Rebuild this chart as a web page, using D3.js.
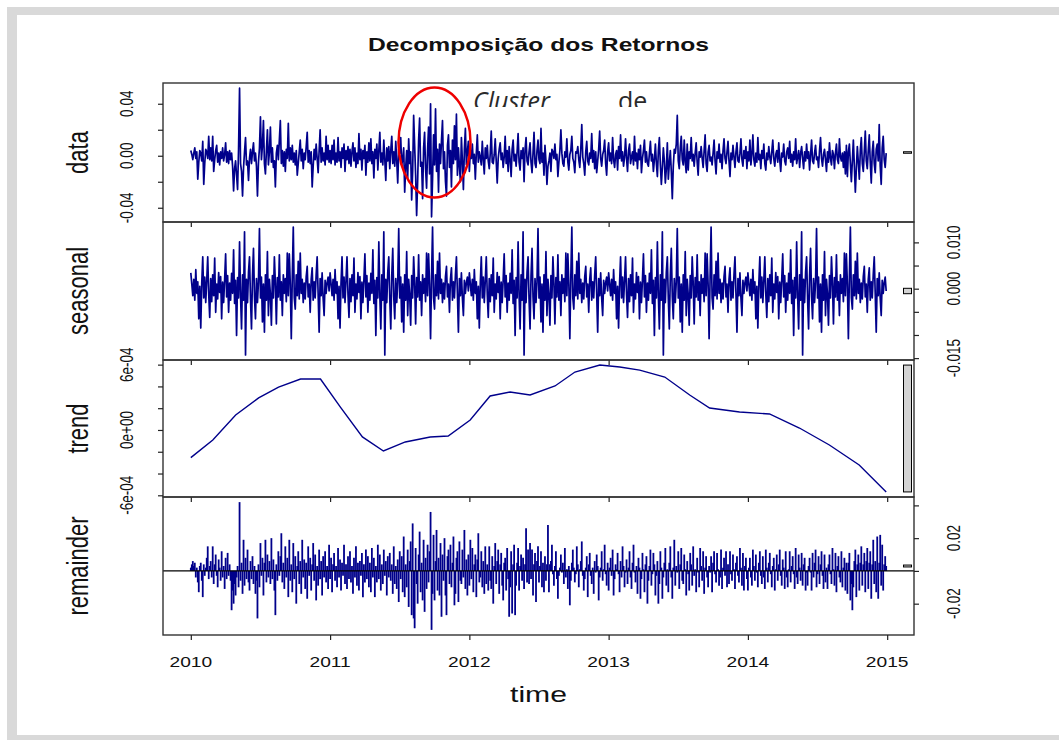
<!DOCTYPE html>
<html><head><meta charset="utf-8">
<script src="https://cdn.jsdelivr.net/npm/d3@7"></script>
<style>body{margin:0;background:#fff}svg{display:block}</style>
</head><body><svg id="c" width="1059" height="740"></svg>
<script>
const chartTitle = "Decomposição dos Retornos";
const panelNames = ["data", "seasonal", "trend", "remainder"];
const xLabel = "time";
const startYear = 2010, perYear = 140;
const yearTicks = [2010, 2011, 2012, 2013, 2014, 2015];

const dataValues = [
0.004,0.001,-0.003,0.002,0.006,-0.002,0.003,-0.018,-0.005,0.004,0.002,-0.004,0.011,-0.022,-0.006,0.005,0.003,-0.002,0.015,-0.003,
0.006,-0.004,0.015,-0.012,-0.003,0.004,0.008,-0.005,0.002,-0.007,0.003,-0.002,0.006,-0.004,0.001,0.010,-0.005,0.003,-0.006,0.004,
-0.003,0.002,-0.008,-0.027,-0.010,-0.004,-0.015,-0.026,0.005,0.052,-0.006,-0.012,-0.031,-0.009,0.003,0.014,-0.007,-0.004,-0.019,-0.002,
0.005,-0.006,0.003,0.010,-0.004,0.002,-0.008,-0.031,-0.005,0.006,0.030,-0.003,0.008,0.027,-0.006,-0.014,0.004,0.020,-0.007,0.003,
0.022,-0.005,0.006,-0.009,-0.004,-0.024,0.002,0.008,-0.003,0.012,0.027,-0.006,0.004,-0.008,0.003,-0.012,0.005,-0.002,0.025,-0.004,
0.006,-0.003,0.008,-0.005,0.002,-0.007,0.004,-0.015,-0.006,0.003,0.012,-0.004,0.005,-0.010,0.002,-0.003,0.007,0.018,-0.005,0.004,
-0.006,0.003,-0.024,-0.008,0.005,-0.003,0.009,-0.002,-0.013,0.004,0.020,-0.005,0.006,-0.004,0.002,-0.007,0.015,-0.003,0.008,-0.005,
0.004,-0.006,0.008,-0.003,0.012,-0.007,0.002,-0.005,0.014,-0.004,0.003,-0.009,0.006,-0.002,0.009,-0.012,0.004,-0.003,0.007,-0.006,
0.005,-0.008,0.003,0.010,-0.004,0.006,-0.009,0.002,-0.006,0.017,-0.003,0.005,-0.011,0.004,-0.002,0.008,-0.015,0.003,-0.005,0.010,
-0.004,0.013,-0.006,0.003,-0.017,0.005,-0.002,0.009,-0.011,0.004,0.018,-0.005,0.002,-0.007,0.012,-0.003,-0.019,0.006,-0.004,0.007,
-0.010,0.004,0.015,-0.006,0.003,-0.008,0.011,-0.004,-0.021,0.005,0.002,0.014,-0.007,-0.003,0.006,-0.028,-0.009,0.004,-0.017,0.013,
-0.006,0.003,-0.034,-0.012,0.031,0.008,-0.015,-0.046,-0.020,0.012,0.029,-0.008,-0.005,-0.033,0.006,0.018,-0.010,-0.025,0.004,0.022,
-0.014,0.040,-0.047,-0.018,0.016,-0.007,0.036,-0.012,0.005,-0.028,0.009,-0.006,0.012,0.027,-0.010,0.003,-0.020,-0.031,0.008,0.016,
-0.009,0.004,-0.024,0.012,-0.006,0.023,-0.003,0.032,-0.015,0.006,-0.008,-0.020,0.014,-0.004,-0.026,0.005,0.021,-0.007,0.003,0.011,
-0.012,0.004,-0.002,0.009,-0.006,0.001,-0.018,0.002,0.016,-0.005,0.003,-0.001,-0.007,0.011,-0.003,-0.014,0.006,-0.002,0.008,-0.004,
-0.010,0.002,0.019,-0.005,-0.006,0.001,0.013,-0.004,-0.021,-0.002,0.005,0.010,-0.003,0.002,-0.009,-0.001,0.015,-0.006,0.004,-0.012,
0.007,-0.003,-0.016,0.005,0.012,-0.004,0.001,-0.008,0.003,0.017,-0.005,-0.011,0.004,-0.002,0.006,-0.020,0.005,0.014,-0.004,-0.007,
0.003,0.010,-0.005,-0.013,0.002,0.018,-0.006,-0.009,0.004,0.012,-0.003,-0.006,0.021,-0.005,0.002,-0.015,0.008,-0.004,-0.022,-0.008,
-0.004,0.002,-0.012,0.005,0.003,-0.002,0.009,-0.003,0.001,-0.016,-0.005,0.004,0.020,0.002,-0.006,-0.008,0.003,-0.001,0.013,-0.005,
-0.011,0.001,0.004,0.015,-0.002,-0.005,-0.013,0.003,0.002,0.007,-0.003,-0.009,0.005,0.024,-0.001,-0.006,-0.015,0.003,0.011,-0.004,
-0.007,0.002,-0.002,0.017,-0.005,0.004,-0.010,0.003,-0.013,-0.004,0.005,0.019,-0.002,-0.008,0.001,0.004,0.012,-0.006,-0.015,0.003,
0.010,-0.004,0.002,-0.006,0.014,-0.003,-0.009,0.001,0.004,-0.011,0.007,-0.002,0.016,-0.004,0.003,-0.008,-0.001,0.013,-0.002,-0.012,
0.004,0.009,-0.006,-0.001,0.003,-0.007,0.015,-0.004,0.002,-0.010,0.005,-0.003,0.008,-0.013,-0.002,0.004,0.012,-0.005,0.003,-0.006,
-0.008,0.002,0.011,-0.004,0.001,-0.012,-0.003,0.009,-0.006,-0.016,0.004,0.014,-0.007,-0.022,-0.009,0.006,-0.004,-0.021,-0.010,0.010,
-0.018,-0.006,0.004,-0.012,-0.033,-0.008,0.005,0.002,0.009,0.031,-0.004,-0.010,0.006,0.015,-0.003,-0.007,0.012,-0.005,-0.013,0.009,
-0.011,0.003,-0.002,0.014,-0.004,0.001,-0.008,0.002,0.010,-0.005,-0.015,0.003,-0.001,0.007,-0.002,-0.009,0.004,0.016,-0.006,-0.012,
0.003,0.008,-0.004,-0.001,-0.007,0.002,0.012,-0.004,-0.014,0.003,-0.002,0.009,-0.005,0.001,-0.010,0.004,0.013,-0.002,-0.006,0.003,
0.011,-0.004,-0.016,0.002,-0.003,0.008,-0.001,-0.009,0.003,0.010,-0.004,-0.005,0.002,0.013,-0.003,-0.008,0.004,-0.002,0.007,-0.010,
0.003,-0.004,0.012,-0.007,0.001,0.016,-0.003,-0.008,0.002,-0.005,0.014,-0.003,0.001,-0.010,0.004,-0.002,0.009,-0.006,-0.011,0.002,
-0.003,0.007,-0.001,-0.006,0.003,0.012,-0.002,-0.008,0.001,0.004,-0.005,0.010,-0.003,-0.012,0.002,-0.001,0.009,-0.004,-0.007,0.003,
0.006,-0.002,0.011,-0.005,0.001,-0.008,0.003,-0.003,0.013,-0.006,-0.001,0.004,-0.009,0.002,0.007,-0.002,-0.010,0.003,-0.004,0.009,
-0.002,0.003,-0.011,0.001,0.012,-0.004,-0.006,0.002,0.008,-0.003,-0.001,-0.009,0.004,0.014,-0.002,-0.008,0.001,0.005,-0.003,-0.012,
0.003,-0.005,0.010,-0.002,-0.007,0.004,0.001,-0.010,0.002,0.009,-0.003,-0.006,0.013,-0.001,-0.004,0.002,-0.009,0.003,-0.014,0.008,
-0.016,0.003,0.009,-0.006,-0.020,-0.004,0.012,-0.008,-0.028,-0.010,0.007,-0.005,-0.018,0.004,0.014,-0.006,-0.012,0.003,0.019,-0.004,
-0.010,0.004,0.016,-0.005,-0.021,0.003,0.011,-0.006,-0.013,0.005,0.009,-0.004,0.024,-0.008,-0.022,0.006,0.015,-0.003,-0.009,0.002
];

// one seasonal cycle (one year); the STL seasonal component repeats every year
const seasonalYear = [
0.0034,0.0010,-0.0015,0.0020,-0.0025,0.0041,-0.0010,0.0015,-0.0065,0.0005,
-0.0085,0.0012,0.0069,-0.0020,0.0025,-0.0030,0.0018,0.0069,-0.0012,-0.0062,
0.0022,-0.0028,0.0030,-0.0015,0.0066,-0.0051,0.0010,-0.0022,0.0035,-0.0008,
0.0026,-0.0065,0.0014,-0.0030,0.0020,0.0075,-0.0018,0.0028,-0.0051,0.0012,
-0.0025,0.0033,-0.0010,0.0084,-0.0032,0.0018,-0.0101,0.0024,-0.0020,0.0101,
-0.0015,-0.0087,0.0030,-0.0025,0.0123,-0.0143,0.0020,-0.0030,0.0036,0.0069,
-0.0022,-0.0087,0.0028,0.0087,-0.0018,-0.0065,0.0022,-0.0030,0.0015,0.0130,
-0.0020,0.0025,-0.0072,0.0010,-0.0094,0.0030,-0.0025,0.0080,-0.0058,0.0020,
-0.0012,-0.0079,0.0028,-0.0020,0.0069,0.0012,-0.0076,0.0024,-0.0018,0.0073,
-0.0025,0.0015,-0.0058,0.0030,-0.0010,0.0022,-0.0028,0.0077,-0.0015,0.0075,
0.0010,-0.0108,0.0025,0.0133,-0.0020,-0.0044,0.0030,-0.0015,0.0059,-0.0022,
0.0077,-0.0010,0.0020,-0.0030,0.0012,-0.0022,0.0026,0.0048,-0.0018,0.0010,
-0.0051,0.0020,0.0045,-0.0025,0.0015,-0.0020,0.0030,0.0069,-0.0012,-0.0094,
0.0022,-0.0015,0.0034,-0.0020,-0.0058,0.0018,-0.0010,0.0013,0.0025,-0.0005
];

const trendTime = [2010.000,2010.158,2010.322,2010.487,2010.630,2010.788,2010.931,2011.074,
2011.232,2011.383,2011.540,2011.719,2011.848,2012.006,2012.149,2012.292,2012.436,2012.615,
2012.758,2012.937,2013.080,2013.223,2013.403,2013.582,2013.725,2013.940,2014.155,2014.370,
2014.585,2014.799,2014.993];
const trendValues = [-2.54e-4,-0.92e-4,1.38e-4,2.94e-4,3.94e-4,4.68e-4,4.68e-4,2.10e-4,
-0.64e-4,-1.93e-4,-1.10e-4,-0.64e-4,-0.55e-4,0.92e-4,3.12e-4,3.49e-4,3.21e-4,4.04e-4,
5.32e-4,5.96e-4,5.78e-4,5.50e-4,4.86e-4,3.21e-4,2.02e-4,1.65e-4,1.47e-4,0.18e-4,
-1.38e-4,-3.21e-4,-5.69e-4];

const remainderValues = [
0.002,0.004,0.006,0.003,0.005,-0.004,0.002,-0.007,-0.013,0.003,0.005,-0.006,-0.016,0.004,-0.003,0.002,0.008,0.015,-0.005,0.003,
0.006,-0.004,0.015,-0.008,0.004,0.010,-0.003,-0.010,0.007,0.002,-0.006,0.012,-0.004,0.003,-0.011,0.008,-0.005,0.011,-0.003,0.004,
-0.006,-0.024,-0.012,-0.020,-0.008,-0.015,-0.004,0.003,-0.010,0.042,-0.006,0.005,-0.014,0.019,-0.009,0.008,-0.005,0.013,-0.007,-0.012,
0.006,-0.005,0.009,-0.008,0.003,-0.014,-0.006,-0.029,0.004,-0.010,0.017,-0.003,0.008,-0.015,0.005,0.019,-0.007,0.010,-0.004,0.006,
-0.008,0.020,-0.005,0.007,-0.012,-0.027,0.004,-0.006,0.012,-0.003,0.009,0.023,-0.007,0.005,-0.011,0.015,-0.004,0.008,-0.016,0.019,
-0.006,0.004,-0.013,0.017,-0.005,0.009,-0.020,0.003,0.012,-0.008,0.006,-0.014,0.019,-0.004,0.007,-0.011,0.005,-0.017,0.015,-0.003,
0.008,-0.012,0.004,0.017,-0.006,0.010,-0.018,0.003,-0.009,0.013,-0.005,0.006,-0.015,0.009,-0.004,0.012,-0.007,0.003,-0.011,0.016,
-0.005,0.008,-0.013,0.004,0.011,-0.006,0.003,-0.010,0.014,-0.004,0.007,-0.012,0.005,-0.003,0.016,-0.008,0.004,-0.011,0.009,-0.005,
0.012,-0.007,0.003,-0.014,0.008,-0.004,0.015,-0.009,0.005,-0.012,0.006,-0.003,0.011,-0.016,0.004,-0.007,0.013,-0.005,0.009,-0.010,
0.005,-0.013,0.014,-0.004,0.008,-0.016,0.003,-0.007,0.016,-0.005,0.010,-0.012,0.004,-0.008,0.013,-0.003,0.006,-0.015,0.009,-0.004,
0.011,-0.006,0.004,-0.014,0.015,-0.008,0.003,-0.011,0.007,-0.019,0.012,-0.005,0.009,-0.013,0.021,-0.016,0.004,-0.010,0.013,-0.022,
0.006,0.018,-0.027,0.029,-0.029,-0.035,0.014,-0.008,-0.020,0.010,0.024,-0.013,0.005,-0.018,0.019,-0.025,0.008,-0.011,0.016,-0.007,
0.012,0.036,-0.036,-0.014,0.022,-0.018,0.006,0.025,-0.012,0.008,-0.015,0.017,-0.028,0.010,-0.006,0.020,-0.015,-0.027,0.009,0.013,
-0.008,0.016,-0.010,0.005,0.021,-0.021,-0.014,0.008,0.012,-0.019,0.018,-0.006,-0.008,0.013,-0.004,0.025,-0.011,0.007,-0.015,0.010,
-0.009,0.019,-0.005,0.014,-0.013,0.004,0.010,-0.016,0.007,0.023,-0.007,-0.004,0.012,-0.010,0.006,-0.014,0.015,-0.008,0.004,-0.012,
0.015,-0.006,-0.011,0.009,-0.020,0.003,0.017,-0.008,0.006,0.013,-0.014,0.004,0.011,-0.009,-0.018,0.005,0.008,-0.012,0.014,-0.005,
-0.028,-0.010,0.012,-0.026,0.004,0.016,-0.027,-0.009,0.005,0.014,-0.012,0.003,0.010,-0.006,0.008,-0.011,0.004,0.026,-0.007,0.013,
-0.008,0.017,-0.005,0.013,-0.015,0.004,0.011,-0.019,0.006,0.015,-0.007,0.003,0.012,-0.010,0.005,-0.013,0.009,-0.006,0.004,0.028,
-0.013,0.004,0.006,0.016,-0.002,-0.009,0.003,0.012,-0.005,-0.017,-0.003,0.002,0.010,-0.001,0.005,-0.008,0.014,-0.004,0.001,-0.011,
0.003,-0.021,-0.006,0.005,0.013,0.002,-0.007,-0.002,0.015,0.004,-0.010,0.001,0.006,0.018,-0.003,-0.012,-0.005,0.002,0.009,-0.016,
0.004,0.011,-0.003,-0.008,0.002,-0.014,0.006,-0.001,0.010,0.003,-0.018,-0.004,0.002,0.012,-0.006,0.001,0.016,-0.002,-0.009,0.005,
-0.012,0.002,0.008,-0.003,0.013,-0.015,-0.005,0.004,0.001,0.011,-0.002,-0.013,0.006,-0.004,0.015,0.003,-0.010,-0.001,0.007,-0.008,
0.002,0.012,-0.004,-0.011,0.005,0.016,-0.001,-0.007,0.003,-0.014,0.008,0.002,-0.017,-0.005,0.011,0.001,-0.013,0.004,0.009,-0.020,
-0.006,0.003,0.013,-0.009,-0.002,0.011,0.004,-0.015,-0.003,0.006,-0.020,-0.008,0.012,0.002,-0.017,-0.004,0.005,0.014,-0.009,0.001,
-0.013,0.005,0.015,-0.004,-0.017,0.002,0.019,-0.009,0.003,-0.001,0.012,-0.011,0.004,0.014,-0.006,-0.008,0.010,0.001,-0.015,0.006,
-0.002,-0.012,0.011,0.004,-0.009,0.015,-0.003,0.001,-0.013,0.008,-0.001,-0.010,0.014,0.003,-0.006,0.012,-0.014,0.002,0.009,-0.004,
-0.010,0.003,-0.001,0.009,-0.013,0.005,0.012,-0.002,-0.007,0.011,0.001,-0.009,-0.004,0.013,-0.011,0.002,0.008,-0.003,0.012,-0.010,
0.004,-0.008,0.012,-0.002,-0.006,0.010,0.001,-0.011,0.005,0.009,-0.003,-0.007,0.014,0.002,-0.009,0.011,-0.012,0.003,0.008,-0.005,
-0.012,0.002,0.008,-0.004,-0.009,0.013,0.003,-0.006,0.010,-0.001,-0.010,0.005,0.012,-0.003,-0.008,0.009,-0.004,-0.011,0.013,0.002,
-0.007,0.005,0.011,-0.002,-0.010,0.003,0.008,-0.012,0.001,0.010,-0.006,0.004,0.013,-0.003,-0.009,0.007,0.002,-0.011,0.012,-0.004,
-0.010,0.001,0.012,-0.007,0.003,0.009,-0.002,-0.011,0.014,-0.004,-0.008,0.010,0.002,-0.006,0.011,-0.009,0.004,0.008,-0.012,-0.001,
-0.009,0.003,0.008,-0.001,-0.012,0.011,-0.004,0.005,0.013,-0.010,-0.002,0.009,-0.008,0.004,0.012,-0.003,-0.011,0.010,-0.007,0.002,
-0.011,0.004,0.010,-0.002,-0.008,0.014,0.001,-0.009,0.011,-0.013,0.003,0.009,-0.004,-0.007,0.012,-0.010,0.002,0.008,-0.012,0.005,
-0.014,0.005,0.011,-0.018,-0.008,-0.024,-0.010,0.006,0.013,-0.016,0.004,0.010,-0.012,0.005,0.015,-0.009,0.004,0.011,-0.013,0.006,
0.014,-0.011,0.005,0.012,-0.017,0.004,0.019,-0.008,0.006,-0.013,0.021,-0.017,0.005,0.022,-0.009,0.016,-0.012,0.004,0.009,0.003
];

const dataTicks = [-0.04, -0.02, 0, 0.02, 0.04];
const dataTickLabels = [[0.04, "0.04"], [0, "0.00"], [-0.04, "-0.04"]];
const seasonalTicks = [-0.015, -0.010, -0.005, 0, 0.005, 0.010];
const seasonalTickLabels = [[0.010, "0.010"], [0, "0.000"], [-0.015, "-0.015"]];
const trendTicks = [-6e-4, -4e-4, -2e-4, 0, 2e-4, 4e-4, 6e-4];
const trendTickLabels = [[6e-4, "6e-04"], [0, "0e+00"], [-6e-4, "-6e-04"]];
const remainderTicks = [-0.02, 0, 0.02, 0.04];
const remainderTickLabels = [[0.02, "0.02"], [-0.02, "-0.02"]];

const annotationWords = [["Cluster", "italic", 473], ["de", "normal", 618]];

// ---------- drawing ----------
const svg = d3.select("#c");
const SX = 1.37;            // horizontal stretch of the original picture
const FONT = "'Liberation Sans', Arial, sans-serif";
const BLUE = "#00008b";
const L = 163, R = 914;
const tops = [83, 222, 360, 497];
const bottoms = [222, 360, 497, 635];

// frame of the screenshot
svg.append("rect").attr("x", 7).attr("y", 7).attr("width", 1052).attr("height", 8).attr("fill", "#d9d9d9");
svg.append("rect").attr("x", 7).attr("y", 7).attr("width", 10).attr("height", 728).attr("fill", "#d9d9d9");
svg.append("rect").attr("x", 7).attr("y", 735).attr("width", 1052).attr("height", 5).attr("fill", "#d9d9d9");

const seasonalValues = [];
for (let y = 0; y < dataValues.length / perYear; y++) seasonalYear.forEach(v => seasonalValues.push(v));
const times = dataValues.map((_, i) => startYear + i / perYear);

function padded(ext) { const d = (ext[1] - ext[0]) * 0.04; return [ext[0] - d, ext[1] + d]; }
const x = d3.scaleLinear().domain(padded(d3.extent(times))).range([L, R]);

const panels = [
  {vals: dataValues, ticks: dataTicks, labels: dataTickLabels, side: "left"},
  {vals: seasonalValues, ticks: seasonalTicks, labels: seasonalTickLabels, side: "right"},
  {vals: trendValues, ticks: trendTicks, labels: trendTickLabels, side: "left"},
  {vals: remainderValues, ticks: remainderTicks, labels: remainderTickLabels, side: "right"}
];
const trendRange = d3.extent(trendValues);
const barLen = trendRange[1] - trendRange[0];

function text(g, px, py, str, size, opt = {}) {
  return g.append("text")
    .attr("transform", `translate(${px},${py}) scale(${SX},1)` + (opt.rot ? " rotate(-90)" : ""))
    .attr("text-anchor", opt.anchor || "middle")
    .attr("font-family", FONT).attr("font-size", size)
    .attr("font-weight", opt.bold ? "bold" : "normal")
    .attr("fill", "#111").text(str);
}

panels.forEach((p, k) => {
  const ext = d3.extent(p.vals);
  const y = d3.scaleLinear().domain(padded(ext)).range([bottoms[k], tops[k]]);
  const g = svg.append("g");
  g.append("clipPath").attr("id", "clip" + k).append("rect")
    .attr("x", L).attr("y", tops[k]).attr("width", R - L).attr("height", bottoms[k] - tops[k]);
  const body = g.append("g").attr("clip-path", `url(#clip${k})`);
  if (k === 2) {
    body.append("path").datum(trendTime.map((t, i) => [t, trendValues[i]]))
      .attr("fill", "none").attr("stroke", BLUE).attr("stroke-width", 1.4)
      .attr("d", d3.line().x(d => x(d[0])).y(d => y(d[1])));
  } else if (k === 3) {
    body.selectAll("line.r").data(p.vals).join("line").attr("class", "r")
      .attr("x1", (d, i) => x(times[i])).attr("x2", (d, i) => x(times[i]))
      .attr("y1", y(0)).attr("y2", d => y(d))
      .attr("stroke", BLUE).attr("stroke-width", 1.8);
    body.append("line").attr("x1", L).attr("x2", R).attr("y1", y(0)).attr("y2", y(0))
      .attr("stroke", "#000").attr("stroke-width", 1.3);
  } else {
    body.append("path").datum(p.vals)
      .attr("fill", "none").attr("stroke", BLUE).attr("stroke-width", 1.7)
      .attr("stroke-linejoin", "round")
      .attr("d", d3.line().x((d, i) => x(times[i])).y(d => y(d)));
  }
  // range bar
  const c = (ext[0] + ext[1]) / 2;
  const yb1 = y(c + barLen / 2), yb2 = y(c - barLen / 2);
  g.append("rect").attr("x", 903.5).attr("y", yb1).attr("width", 8)
    .attr("height", Math.max(1, yb2 - yb1)).attr("fill", "#d3d3d3")
    .attr("stroke", "#000").attr("stroke-width", 1);
  // frame
  g.append("rect").attr("x", L).attr("y", tops[k]).attr("width", R - L).attr("height", bottoms[k] - tops[k])
    .attr("fill", "none").attr("stroke", "#333").attr("stroke-width", 1.4);
  // y axis
  if (p.side === "left") {
    const ax = g.append("g").attr("transform", `translate(${L},0)`)
      .call(d3.axisLeft(y).tickValues(p.ticks).tickSize(5).tickFormat(""));
    ax.select(".domain").remove();
    ax.selectAll("line").attr("stroke", "#222").attr("stroke-width", 1.2);
    p.labels.forEach(([v, s]) => text(g, 133, y(v), s, 13.5, {rot: true}));
  } else {
    const ax = g.append("g").attr("transform", `translate(${R},0)`)
      .call(d3.axisRight(y).tickValues(p.ticks).tickSize(5).tickFormat(""));
    ax.select(".domain").remove();
    ax.selectAll("line").attr("stroke", "#222").attr("stroke-width", 1.2);
    p.labels.forEach(([v, s]) => text(g, 960, y(v), s, 13.5, {rot: true}));
  }
  // x ticks at bottom of each panel
  const xa = g.append("g").attr("transform", `translate(0,${bottoms[k]})`)
    .call(d3.axisBottom(x).tickValues(yearTicks).tickSize(5).tickFormat(""));
  xa.select(".domain").remove();
  xa.selectAll("line").attr("stroke", "#222").attr("stroke-width", 1.2);
  // panel name
  text(g, 88, (tops[k] + bottoms[k]) / 2, panelNames[k], 22, {rot: true});
});

yearTicks.forEach(t => text(svg, x(t), 667, String(t), 14));
text(svg, (L + R) / 2, 702, xLabel, 22);
text(svg, (L + R) / 2, 51, chartTitle, 18, {bold: true});

// annotation
svg.append("ellipse").attr("cx", 434.5).attr("cy", 142.5).attr("rx", 36).attr("ry", 55)
  .attr("fill", "none").attr("stroke", "#ee0000").attr("stroke-width", 2.5);
svg.append("clipPath").attr("id", "annClip").append("rect")
  .attr("x", 440).attr("y", 80).attr("width", 300).attr("height", 27);
const ann = svg.append("g").attr("clip-path", "url(#annClip)");
annotationWords.forEach(([w, st, px]) => {
  ann.append("text").attr("x", px).attr("y", 110).attr("font-family", "'Open Sans', sans-serif")
    .attr("font-size", 25).attr("font-style", st).attr("fill", "#2a2a2a").text(w);
});
</script></body></html>
